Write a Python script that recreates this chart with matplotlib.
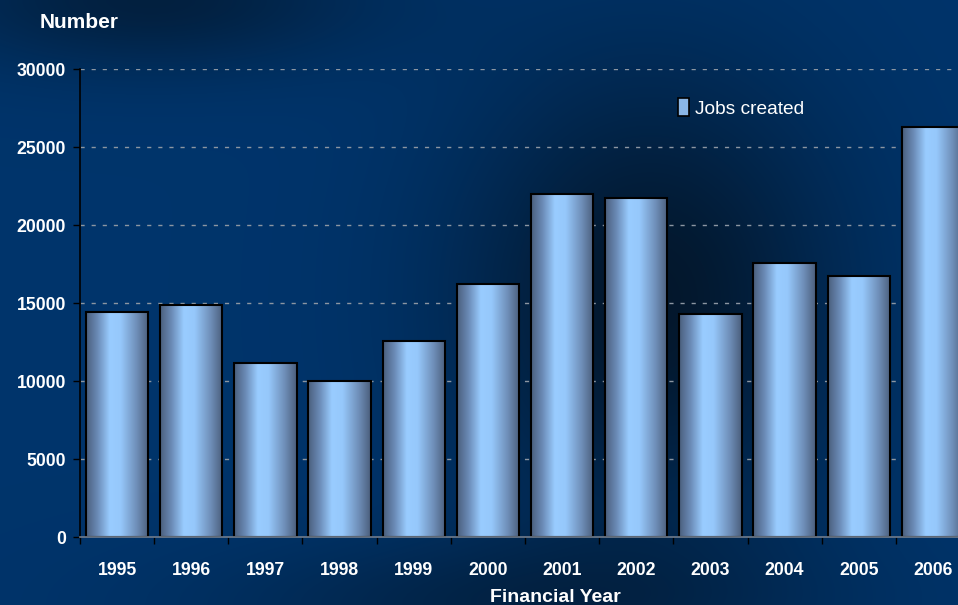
import numpy as np
import matplotlib
matplotlib.use('Agg')
import matplotlib.pyplot as plt
from matplotlib.colors import LinearSegmentedColormap
from matplotlib.patches import Rectangle

plt.rcParams['font.family'] = ['Liberation Sans', 'DejaVu Sans']

# data
years = ['1995', '1996', '1997', '1998', '1999', '2000',
         '2001', '2002', '2003', '2004', '2005', '2006']
jobs = [14400, 14900, 11150, 10000, 12550, 16200,
        22000, 21750, 14300, 17550, 16750, 26300]
yticks = [0, 5000, 10000, 15000, 20000, 25000, 30000]

W, H = 958, 605
fig = plt.figure(figsize=(W / 100, H / 100), dpi=100)

# background: navy, darker patch centre-right, darker top-left corner and bottom
bg = fig.add_axes([0, 0, 1, 1], zorder=-10)
yy, xx = np.mgrid[0:H, 0:W]
base = np.array([0.0, 0.205, 0.42])
centre = np.exp(-(((xx - 650) / 190.0) ** 2 + ((yy - 300) / 230.0) ** 2))
corner = np.exp(-(((xx - 150) / 220.0) ** 2 + ((yy - 0) / 70.0) ** 2))
bottom = np.exp(-(((xx - 520) / 300.0) ** 2 + ((yy - 605) / 70.0) ** 2))
f = 1 - 0.65 * centre - 0.45 * corner - 0.35 * bottom
f = np.clip(f, 0.25, 1)[..., None]
img = base[None, None, :] * f + np.array([0.02, 0.03, 0.04]) * (1 - f)
bg.imshow(img, aspect='auto', extent=(0, 1, 0, 1), origin='upper')
bg.set_xlim(0, 1)
bg.set_ylim(0, 1)
bg.axis('off')

ax = fig.add_axes([80 / W, (H - 537) / H, 890 / W, (537 - 69) / H])
ax.patch.set_visible(False)

bar_cmap = LinearSegmentedColormap.from_list(
    'barshade', [(0.0, '#4a5e7c'), (0.18, '#6a8ab5'), (0.38, '#99ccff'),
                 (0.55, '#96c8fb'), (0.8, '#7090ba'), (1.0, '#4a5e7c')])
grad = np.linspace(0, 1, 256)[None, :]

x = np.arange(len(years))
bw = 0.84
ax.bar(x, jobs, width=bw, facecolor='none', edgecolor='black', linewidth=1.5, zorder=4)
for xi, v in zip(x, jobs):
    ax.imshow(grad, cmap=bar_cmap, aspect='auto', zorder=3,
              extent=(xi - bw / 2, xi + bw / 2, 0, v), interpolation='bilinear')

ax.set_xlim(-0.5, len(years) - 0.5)
ax.set_ylim(0, 30000)

for y in yticks[1:]:
    ax.axhline(y, color='#8c96a2', linewidth=1.0, dashes=(3, 5), zorder=1)

# ticks at category boundaries, labels at centres
ax.set_xticks(np.arange(-0.5, len(years), 1.0))
ax.set_xticklabels([])
ax.tick_params(axis='x', which='major', direction='out', length=5, color='black', width=1)
ax.set_xticks(x, minor=True)
ax.set_xticklabels(years, minor=True)
ax.tick_params(axis='x', which='minor', length=0, pad=18, labelsize=12.7, labelcolor='white')
for t in ax.get_xticklabels(minor=True):
    t.set_fontweight('bold')

ax.set_yticks(yticks)
ax.set_yticklabels([str(v) for v in yticks])
ax.tick_params(axis='y', direction='out', length=5, color='black', width=1, pad=5,
               labelsize=12.7, labelcolor='white')
for t in ax.get_yticklabels():
    t.set_fontweight('bold')

for s in ['top', 'right']:
    ax.spines[s].set_visible(False)
ax.spines['left'].set_color('black')
ax.spines['left'].set_linewidth(1.2)
ax.spines['bottom'].set_color('#707c8c')
ax.spines['bottom'].set_linewidth(1.2)
ax.spines['left'].set_zorder(5)
ax.spines['bottom'].set_zorder(5)

fig.text(40 / W, 1 - 22 / H, 'Number', color='white', fontsize=15,
         fontweight='bold', ha='left', va='center')
fig.text(555 / W, 1 - 598 / H, 'Financial Year', color='white', fontsize=14,
         fontweight='bold', ha='center', va='center')

proxy = Rectangle((0, 0), 1, 1, facecolor='#8ab6e6', edgecolor='black', linewidth=1.2)
leg = ax.legend([proxy], ['Jobs created'], loc='center left',
                bbox_to_anchor=(661 / W, 1 - 108 / H), bbox_transform=fig.transFigure,
                frameon=False, handlelength=0.55, handleheight=1.0, handletextpad=0.3,
                fontsize=13.8)
for t in leg.get_texts():
    t.set_color('white')

fig.savefig('out.png', dpi=100)
